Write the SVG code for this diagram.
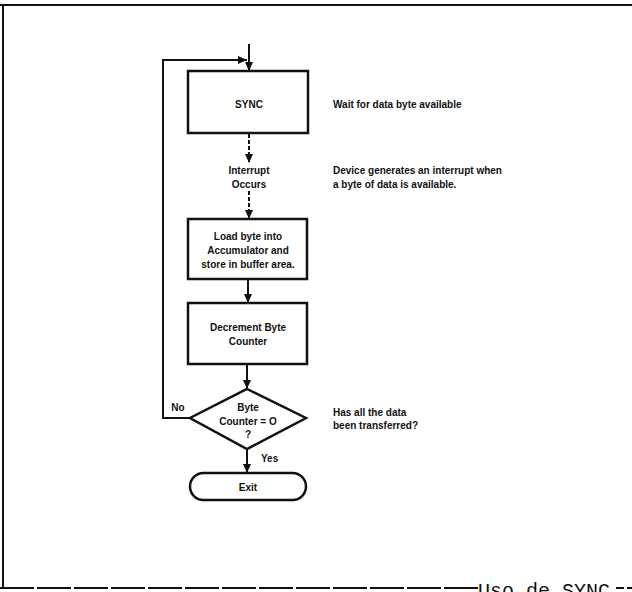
<svg xmlns="http://www.w3.org/2000/svg" width="632" height="592" viewBox="0 0 632 592">
<style>
.box{fill:#fff;stroke:#111;stroke-width:2.5}
.c{fill:none;stroke:#111;stroke-width:2}
.d{stroke-dasharray:4 2}
.t{font-family:"Liberation Sans",Arial,sans-serif;font-weight:bold;font-size:10px;fill:#111}
.m{text-anchor:middle}
.frame{fill:none;stroke:#111;stroke-width:2}
</style>
<defs>
<marker id="ah" markerUnits="userSpaceOnUse" markerWidth="9" markerHeight="8" refX="9" refY="4" orient="auto">
<path d="M0,0 L9,4 L0,8 z" fill="#111"/>
</marker>
</defs>
<rect width="632" height="592" fill="#fff"/>
<g id="frame">
<line class="frame" x1="0" y1="5" x2="632" y2="5"/>
<line class="frame" x1="3" y1="4" x2="3" y2="589"/>
<line class="frame" x1="0" y1="588" x2="478" y2="588" stroke-dasharray="34 3"/>
<line class="frame" x1="616" y1="588" x2="632" y2="588" stroke-dasharray="8 3"/>
<text x="478" y="597" font-family="'Liberation Mono','Courier New',monospace" font-size="20" fill="#111">Uso de SYNC</text>
</g>
<g id="connectors">
<line class="c" x1="249" y1="44" x2="249" y2="71" marker-end="url(#ah)"/>
<polyline class="c" points="190,418 163,418 163,60 247,60" marker-end="url(#ah)"/>
<line class="c d" x1="249" y1="134" x2="249" y2="163" marker-end="url(#ah)"/>
<line class="c d" x1="249" y1="191" x2="249" y2="219" marker-end="url(#ah)"/>
<line class="c" x1="248" y1="280" x2="248" y2="303" marker-end="url(#ah)"/>
<line class="c" x1="247" y1="365" x2="247" y2="389" marker-end="url(#ah)"/>
<line class="c" x1="247" y1="449" x2="247" y2="473" marker-end="url(#ah)"/>
<text class="t" x="178" y="411" text-anchor="middle">No</text>
<text class="t" x="261" y="462">Yes</text>
</g>
<g id="sync">
<rect class="box" x="188" y="71" width="120" height="62"/>
<text class="t m" x="249" y="107.5">SYNC</text>
</g>
<g id="interrupt">
<text class="t m" x="249" y="174">Interrupt</text>
<text class="t m" x="249" y="188">Occurs</text>
</g>
<g id="load">
<rect class="box" x="188" y="219" width="119" height="60"/>
<text class="t m" x="248" y="239.5">Load byte into</text>
<text class="t m" x="248" y="253.5">Accumulator and</text>
<text class="t m" x="248" y="267.5">store in buffer area.</text>
</g>
<g id="decrement">
<rect class="box" x="188" y="303" width="119" height="61"/>
<text class="t m" x="248" y="330.5">Decrement Byte</text>
<text class="t m" x="248" y="344.5">Counter</text>
</g>
<g id="decision">
<polygon class="box" points="247,389 306,418 247,449 190,418"/>
<text class="t m" x="248" y="410.5">Byte</text>
<text class="t m" x="248" y="424.5">Counter = O</text>
<text class="t m" x="248" y="438">?</text>
</g>
<g id="exit">
<rect class="box" x="190" y="473" width="116" height="27" rx="13.5"/>
<text class="t m" x="248" y="490.5">Exit</text>
</g>
<g id="notes">
<text class="t" x="333" y="107.5">Wait for data byte available</text>
<text class="t" x="333" y="173.5">Device generates an interrupt when</text>
<text class="t" x="333" y="188">a byte of data is available.</text>
<text class="t" x="333" y="415.5">Has all the data</text>
<text class="t" x="333" y="429">been transferred?</text>
</g>
</svg>
